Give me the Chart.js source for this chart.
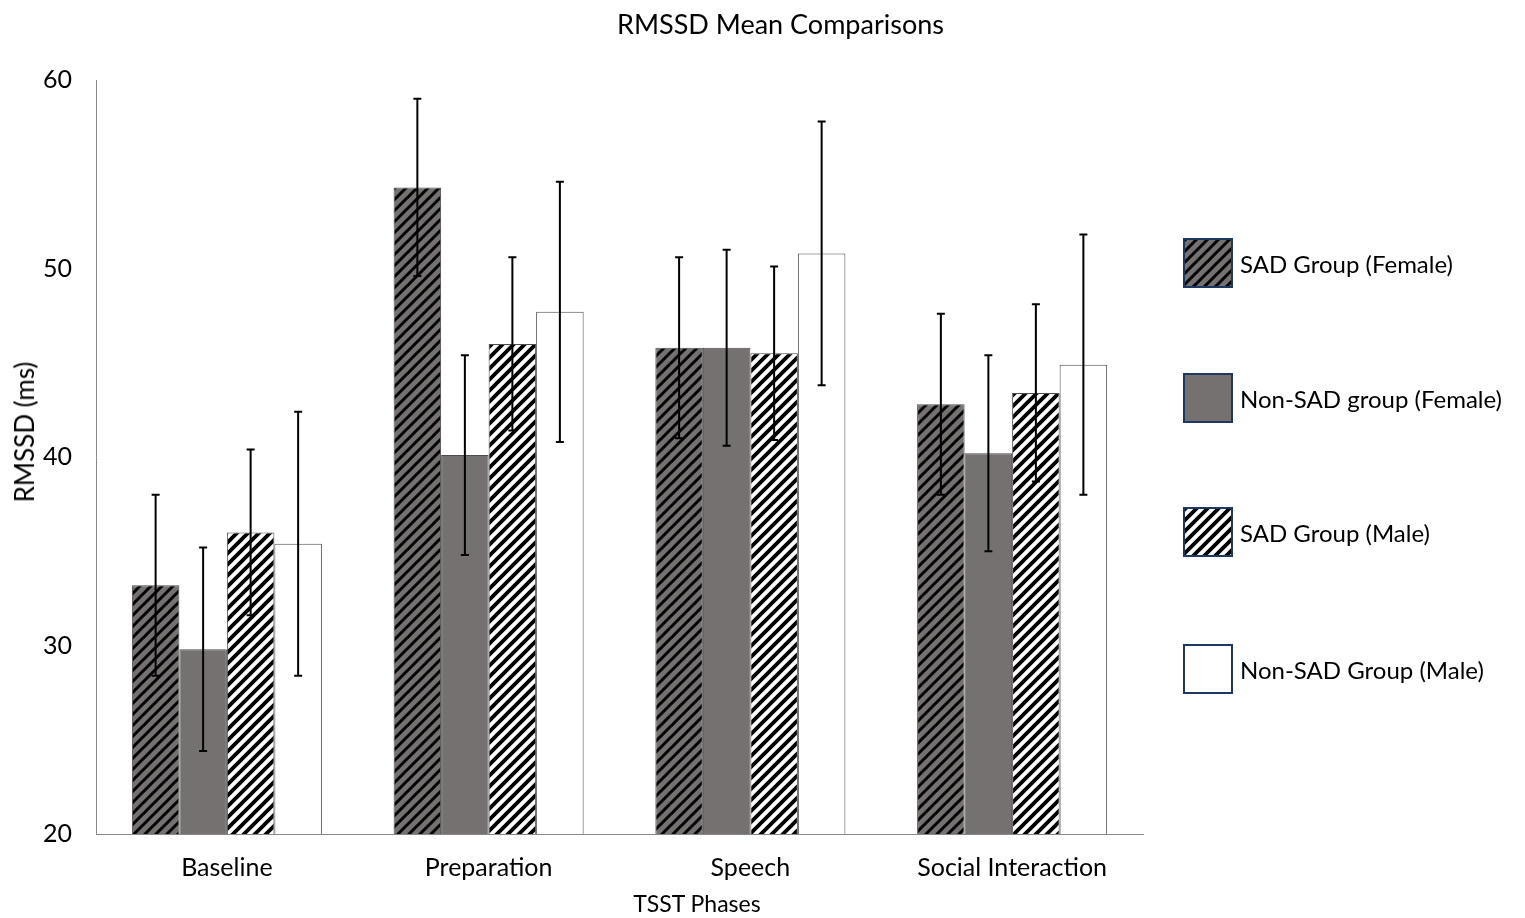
<!DOCTYPE html>
<html>
<head>
<meta charset="utf-8">
<title>RMSSD Mean Comparisons</title>
<script src="https://cdn.jsdelivr.net/npm/chart.js@4.4.1/dist/chart.umd.min.js"></script>
<style>
    body { margin: 0; background: #fff; }
    #wrap { position: relative; width: 1525px; height: 918px; }
    #myChart { position: absolute; left: 0; top: 0; }
    .legend-item {
        position: absolute;
        left: 1183px;
        height: 50px;
        display: flex;
        align-items: center;
        font-family: Lato, sans-serif;
        font-size: 24px;
        color: #000;
        white-space: nowrap;
    }
    .swatch {
        width: 50px;
        height: 50px;
        box-sizing: border-box;
        border: 2px solid #1f3763;
        margin-right: 7px;
    }
    .axis-title {
        position: absolute;
        font-family: Lato, sans-serif;
        color: #000;
        white-space: nowrap;
    }
    #xTitle {
        left: 697px;
        top: 903px;
        font-size: 23px;
        transform: translate(-50%, -50%);
    }
    #yTitle {
        left: 24px;
        top: 432px;
        font-size: 26px;
        transform: translate(-50%, -50%) rotate(-90deg);
    }
</style>
</head>
<body>
<div id="wrap">
    <canvas id="myChart" width="1525" height="918"></canvas>
    <div id="legend"></div>
    <div id="xTitle" class="axis-title">TSST Phases</div>
    <div id="yTitle" class="axis-title">RMSSD (ms)</div>
</div>
<script>
const PHASES = ['Baseline', 'Preparation', 'Speech', 'Social Interaction'];
const SERIES_NAMES = ['SAD Group (Female)', 'Non-SAD group (Female)', 'SAD Group (Male)', 'Non-SAD Group (Male)'];

const SAD_FEMALE = [33.2, 54.3, 45.8, 42.8];
const SAD_FEMALE_ERR = [4.8, 4.7, 4.8, 4.8];
const NON_SAD_FEMALE = [29.8, 40.1, 45.8, 40.2];
const NON_SAD_FEMALE_ERR = [5.4, 5.3, 5.2, 5.2];
const SAD_MALE = [36.0, 46.0, 45.5, 43.4];
const SAD_MALE_ERR = [4.4, 4.6, 4.6, 4.7];
const NON_SAD_MALE = [35.4, 47.7, 50.8, 44.9];
const NON_SAD_MALE_ERR = [7.0, 6.9, 7.0, 6.9];

const Y_MIN = 20;
const Y_MAX = 60;
const Y_STEP = 10;

const GRAY = '#767171';
const FONT = 'Lato';

// diagonal "/" stripe tile
function makeStripes(bg, lineW) {
    const size = 11;
    const c = document.createElement('canvas');
    c.width = size;
    c.height = size;
    const g = c.getContext('2d');
    g.fillStyle = bg;
    g.fillRect(0, 0, size, size);
    g.strokeStyle = '#000';
    g.lineWidth = lineW;
    g.beginPath();
    g.moveTo(-2, size + 2); g.lineTo(size + 2, -2);
    g.moveTo(-2, 2); g.lineTo(2, -2);
    g.moveTo(size - 2, size + 2); g.lineTo(size + 2, size - 2);
    g.stroke();
    return c;
}

const tileFemale = makeStripes(GRAY, 3.0);
const tileMale = makeStripes('#ffffff', 3.8);
const ctx = document.getElementById('myChart');
const c2d = ctx.getContext('2d');

const FILLS = [
    c2d.createPattern(tileFemale, 'repeat'),
    GRAY,
    c2d.createPattern(tileMale, 'repeat'),
    '#ffffff'
];
const VALUES = [SAD_FEMALE, NON_SAD_FEMALE, SAD_MALE, NON_SAD_MALE];
const ERRORS = [SAD_FEMALE_ERR, NON_SAD_FEMALE_ERR, SAD_MALE_ERR, NON_SAD_MALE_ERR];

const errorBars = {
    id: 'errorBars',
    afterDatasetsDraw(chart) {
        const g = chart.ctx;
        const y = chart.scales.y;
        g.save();
        g.strokeStyle = '#000';
        g.lineWidth = 2;
        chart.data.datasets.forEach((ds, i) => {
            const meta = chart.getDatasetMeta(i);
            meta.data.forEach((bar, j) => {
                const v = ds.data[j];
                const e = ds.errors[j];
                const top = y.getPixelForValue(v + e);
                const bot = y.getPixelForValue(v - e);
                g.beginPath();
                g.moveTo(bar.x, top); g.lineTo(bar.x, bot);
                g.moveTo(bar.x - 4, top); g.lineTo(bar.x + 4, top);
                g.moveTo(bar.x - 4, bot); g.lineTo(bar.x + 4, bot);
                g.stroke();
            });
        });
        g.restore();
    }
};

new Chart(ctx, {
    type: 'bar',
    data: {
        labels: PHASES,
        datasets: SERIES_NAMES.map((name, i) => ({
            label: name,
            data: VALUES[i],
            errors: ERRORS[i],
            backgroundColor: FILLS[i],
            borderColor: '#4d4d4d',
            borderWidth: 1,
            categoryPercentage: 0.726,
            barPercentage: 1
        }))
    },
    options: {
        responsive: false,
        animation: false,
        layout: {
            padding: { left: 8, right: -28, top: 0, bottom: 0 }
        },
        plugins: {
            legend: { display: false },
            tooltip: { enabled: false },
            title: {
                display: true,
                text: 'RMSSD Mean Comparisons',
                color: '#000',
                font: { family: FONT, size: 27, weight: 'normal' },
                padding: { top: 9, bottom: 38.6 }
            }
        },
        scales: {
            x: {
                grid: { display: false, drawTicks: false },
                border: { display: true, color: '#888', width: 1 },
                ticks: {
                    color: '#000',
                    padding: 19,
                    font: { family: FONT, size: 25 }
                },
                afterFit: (scale) => { scale.height = 84; }
            },
            y: {
                min: Y_MIN,
                max: Y_MAX,
                grid: { display: false, drawTicks: false },
                border: { display: true, color: '#888', width: 1 },
                ticks: {
                    stepSize: Y_STEP,
                    color: '#000',
                    padding: 24,
                    font: { family: FONT, size: 25 }
                },
                afterFit: (scale) => { scale.width = 88; }
            },
            // empty right-hand axis that keeps room for the legend
            yRight: {
                type: 'linear',
                position: 'right',
                display: true,
                grid: { display: false },
                border: { display: false },
                ticks: { display: false },
                afterFit: (scale) => { scale.width = 410; }
            }
        }
    },
    plugins: [errorBars]
});

// legend kept as html text beside the canvas
const LEGEND_TOPS = [238, 373, 507, 644];
const legendEl = document.getElementById('legend');
const SWATCH_BG = [
    'url(' + tileFemale.toDataURL() + ')',
    GRAY,
    'url(' + tileMale.toDataURL() + ')',
    '#ffffff'
];
SERIES_NAMES.forEach((name, i) => {
    const item = document.createElement('div');
    item.className = 'legend-item';
    item.style.top = LEGEND_TOPS[i] + 'px';
    const sw = document.createElement('div');
    sw.className = 'swatch';
    sw.style.background = SWATCH_BG[i];
    const txt = document.createElement('span');
    txt.textContent = name;
    item.appendChild(sw);
    item.appendChild(txt);
    legendEl.appendChild(item);
});
</script>
</body>
</html>
